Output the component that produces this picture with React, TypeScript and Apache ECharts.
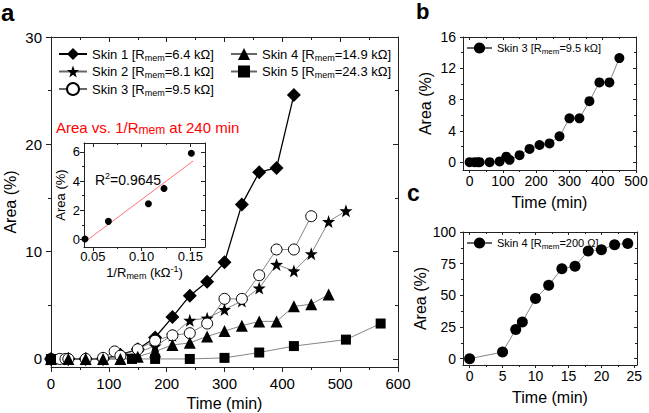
import React, { useEffect, useRef } from 'react';
import * as echarts from 'echarts';

const FONT = '"Liberation Sans", Arial, Helvetica, sans-serif';
const AX = '#222';

// ---- panel a data ----
const timeA1 = [0, 30, 60, 90, 120, 150, 180, 210, 240, 270, 300, 330, 360, 390, 420];
const skin1 = [0, 0, 0, 0, 0.4, 0.9, 2.0, 3.9, 5.9, 7.2, 9.0, 14.4, 17.4, 17.8, 24.6];
const timeA2 = [0, 30, 60, 90, 120, 150, 180, 210, 240, 270, 300, 330, 360, 390, 420, 450, 480, 510];
const skin2 = [0, 0, 0, 0, 0.3, 0.6, 1.2, 2.2, 3.6, 3.8, 4.6, 5.4, 6.6, 8.8, 8.2, 9.8, 12.8, 13.8];
const timeA3 = [0, 15, 25, 30, 60, 90, 110, 120, 150, 180, 210, 240, 270, 300, 330, 360, 390, 420, 450];
const skin3 = [0, 0, 0, 0, 0, 0.1, 0.7, 0.3, 0.9, 1.7, 2.2, 2.4, 3.3, 5.6, 5.6, 7.8, 10.2, 10.2, 13.3];
const timeA4 = [0, 30, 60, 90, 120, 150, 180, 210, 240, 270, 300, 330, 360, 390, 420, 450, 480];
const skin4 = [0, 0, 0, 0, 0, 0.2, 0.7, 1.3, 1.5, 2.1, 2.6, 3.1, 3.5, 3.5, 4.9, 5.1, 6.0];
const timeA5 = [0, 140, 180, 240, 300, 360, 420, 510, 570];
const skin5 = [0, 0, 0, 0, 0.1, 0.6, 1.2, 1.8, 3.3];

// ---- inset data ----
const invR = [0.042, 0.066, 0.107, 0.123, 0.151];
const area240 = [0.05, 1.25, 2.45, 3.5, 5.9];

// ---- panel b data ----
const timeB = [0, 15, 25, 30, 60, 90, 110, 120, 150, 180, 210, 240, 270, 300, 330, 360, 390, 420, 450];
const skin3b = [0, 0, 0, 0, 0, 0.1, 0.7, 0.3, 0.9, 1.7, 2.2, 2.4, 3.3, 5.6, 5.6, 7.8, 10.2, 10.2, 13.3];

// ---- panel c data ----
const timeC = [0, 5, 7, 8, 10, 12, 14, 16, 18, 20, 22, 24];
const skin4c = [0, 5.2, 23, 29, 47.5, 58, 71, 73, 85, 86, 90, 91];

// ---- tick values ----
const aXMajor = [0, 100, 200, 300, 400, 500, 600];
const aXMinor = [50, 150, 250, 350, 450, 550];
const aYMajor = [0, 10, 20, 30];
const aYMinor = [5, 15, 25];
const iXMajor = [0.05, 0.1, 0.15];
const iXMinor = [0.075, 0.125];
const iYMajor = [0, 2, 4, 6];
const iYMinor = [1, 3, 5];
const bXMajor = [0, 100, 200, 300, 400, 500];
const bXMinor = [50, 150, 250, 350, 450];
const bYMajor = [0, 4, 8, 12, 16];
const bYMinor = [2, 6, 10, 14];
const cXMajor = [0, 5, 10, 15, 20, 25];
const cXMinor = [2.5, 7.5, 12.5, 17.5, 22.5];
const cYMajor = [0, 25, 50, 75, 100];
const cYMinor = [12.5, 37.5, 62.5, 87.5];

const legendNames: Record<string, string> = {
  'Skin 1': 'Skin 1 [R{sub|mem}=6.4 kΩ]',
  'Skin 2': 'Skin 2 [R{sub|mem}=8.1 kΩ]',
  'Skin 3': 'Skin 3 [R{sub|mem}=9.5 kΩ]',
  'Skin 4': 'Skin 4 [R{sub|mem}=14.9 kΩ]',
  'Skin 5': 'Skin 5 [R{sub|mem}=24.3 kΩ]',
  b3: 'Skin 3 [R{sub|mem}=9.5 kΩ]',
  c4: 'Skin 4 [R{sub|mem}=200 Ω]',
};

type AxCfg = {
  min: number; max: number; major: number[]; minor: number[];
  fontSize: number; margin: number; fmt?: (v: number) => string;
  name?: string; nameGap?: number; nameStyle?: any; tick?: number; noMove?: boolean;
};

function buildAxes(dim: 'x' | 'y', grid: number, c: AxCfg, list: any[]) {
  const pPos = dim === 'x' ? 'bottom' : 'left';
  const mPos = dim === 'x' ? 'top' : 'right';
  const tl = c.tick ?? 5;
  const base = { type: 'value', gridIndex: grid, min: c.min, max: c.max, splitLine: { show: false } };
  const lineStyle = { color: AX, width: 1 };
  const label: any = { show: true, customValues: c.major, margin: c.margin, fontSize: c.fontSize, color: '#000', fontFamily: FONT };
  if (c.fmt) label.formatter = c.fmt;
  const primary: any = {
    ...base, position: pPos,
    axisLine: { show: true, onZero: false, lineStyle },
    axisTick: { show: true, inside: false, length: tl, customValues: c.major, lineStyle },
    axisLabel: label,
  };
  if (c.name) {
    primary.name = c.name;
    primary.nameLocation = 'middle';
    primary.nameGap = c.nameGap;
    primary.nameTextStyle = c.nameStyle;
    if (c.noMove) primary.nameMoveOverlap = false;
  }
  const idx = list.length;
  list.push(primary);
  list.push({ ...base, position: pPos, axisLine: { show: false, onZero: false }, axisTick: { show: true, inside: false, length: Math.round(tl * 0.6), customValues: c.minor, lineStyle }, axisLabel: { show: false } });
  list.push({ ...base, position: mPos, axisLine: { show: true, onZero: false, lineStyle }, axisTick: { show: true, inside: true, length: tl, customValues: c.major, lineStyle }, axisLabel: { show: false } });
  list.push({ ...base, position: mPos, axisLine: { show: false, onZero: false }, axisTick: { show: true, inside: true, length: Math.round(tl * 0.6), customValues: c.minor, lineStyle }, axisLabel: { show: false } });
  return idx;
}

const pairs = (xs: number[], ys: number[]) => xs.map((x, i) => [x, ys[i]]);

export default function App() {
  const ref = useRef<HTMLDivElement>(null);
  useEffect(() => {
    if (!ref.current) return;
    const chart = echarts.init(ref.current, null, { renderer: 'svg' });
    const xAxes: any[] = [];
    const yAxes: any[] = [];
    const nameStyle16 = { fontSize: 16, fontFamily: FONT, color: '#000' };

    const ax = buildAxes('x', 0, { min: 0, max: 600, major: aXMajor, minor: aXMinor, fontSize: 15, margin: 9, name: 'Time (min)', nameGap: 26, nameStyle: nameStyle16 }, xAxes);
    const ay = buildAxes('y', 0, { min: -0.75, max: 30, major: aYMajor, minor: aYMinor, fontSize: 15, margin: 9, name: 'Area (%)', nameGap: 33, nameStyle: nameStyle16, noMove: true }, yAxes);

    const subRich = { sub: { fontSize: 9, verticalAlign: 'bottom', lineHeight: 10, fontFamily: FONT, color: '#000' }, sup: { fontSize: 9, verticalAlign: 'top', lineHeight: 10, fontFamily: FONT, color: '#000' } };
    const ix = buildAxes('x', 1, { min: 0.041, max: 0.165, major: iXMajor, minor: iXMinor, fontSize: 13, margin: 3, tick: 4, fmt: (v: number) => v.toFixed(2), name: '1/R{sub|mem} (kΩ{sup|-1})', nameGap: 17, nameStyle: { fontSize: 13, fontFamily: FONT, color: '#000', lineHeight: 16, rich: subRich } }, xAxes);
    const iy = buildAxes('y', 1, { min: -0.5, max: 6.6, major: iYMajor, minor: iYMinor, fontSize: 13, margin: 4, tick: 4, name: 'Area (%)', nameGap: 17, nameStyle: { fontSize: 13, fontFamily: FONT, color: '#000' } }, yAxes);

    const bx = buildAxes('x', 2, { min: -20, max: 500, major: bXMajor, minor: bXMinor, fontSize: 14, margin: 4, tick: 3, name: 'Time (min)', nameGap: 24, nameStyle: nameStyle16 }, xAxes);
    const by = buildAxes('y', 2, { min: -1, max: 16, major: bYMajor, minor: bYMinor, fontSize: 14, margin: 7, tick: 3, name: 'Area (%)', nameGap: 30, nameStyle: nameStyle16 }, yAxes);

    const cx = buildAxes('x', 3, { min: -1, max: 25.4, major: cXMajor, minor: cXMinor, fontSize: 14, margin: 4, tick: 3, name: 'Time (min)', nameGap: 24, nameStyle: nameStyle16 }, xAxes);
    const cy = buildAxes('y', 3, { min: -5, max: 100, major: cYMajor, minor: cYMinor, fontSize: 14, margin: 7, tick: 3, name: 'Area (%)', nameGap: 30, nameStyle: nameStyle16 }, yAxes);

    // linear fit for inset
    const n = invR.length;
    const mx = invR.reduce((a, b) => a + b, 0) / n;
    const my = area240.reduce((a, b) => a + b, 0) / n;
    let sxy = 0, sxx = 0;
    for (let i = 0; i < n; i++) { sxy += (invR[i] - mx) * (area240[i] - my); sxx += (invR[i] - mx) ** 2; }
    const slope = sxy / sxx;
    const icpt = my - slope * mx;
    const fitX = [0.044, 0.153];

    const gray = '#666';
    const lineSeries = (name: string, data: number[][], symbol: string, size: any, xi: number, yi: number, opts: any = {}) => ({
      type: 'line', name, data, symbol, symbolSize: size, xAxisIndex: xi, yAxisIndex: yi, clip: false,
      lineStyle: { color: opts.lineColor ?? gray, width: opts.lineWidth ?? 0.8 },
      itemStyle: { color: opts.fill ?? '#000', borderColor: '#000', borderWidth: opts.border ?? 0 },
      z: opts.z ?? 2,
    });

    const legendText = (fs: number, sub: number) => ({
      fontSize: fs, fontFamily: FONT, color: '#000', lineHeight: fs + 3,
      rich: { sub: { fontSize: sub, verticalAlign: 'bottom', lineHeight: sub + 1, fontFamily: FONT, color: '#000' } },
    });
    const fmt = (name: string) => legendNames[name] ?? name;
    const gb = { outerBoundsMode: 'none', containLabel: false };

    const option: any = {
      animation: false,
      backgroundColor: '#fff',
      grid: [
        { ...gb, left: 51, top: 37, width: 347, height: 330 },
        { ...gb, left: 84, top: 143, width: 121, height: 104, show: true, backgroundColor: '#fff', borderWidth: 0 },
        { ...gb, left: 463, top: 37, width: 173, height: 133 },
        { ...gb, left: 463, top: 232, width: 174, height: 133 },
      ],
      xAxis: xAxes,
      yAxis: yAxes,
      legend: [
        { data: ['Skin 1', 'Skin 2', 'Skin 3'], orient: 'vertical', left: 58, top: 46, padding: 0, itemWidth: 28, itemHeight: 15, itemGap: 1.5, selectedMode: false, formatter: fmt, textStyle: legendText(13, 9) },
        { data: ['Skin 4', 'Skin 5'], orient: 'vertical', left: 230, top: 46, padding: 0, itemWidth: 26, itemHeight: 15, itemGap: 1.5, selectedMode: false, formatter: fmt, textStyle: legendText(13, 9) },
        { data: ['b3'], left: 466, top: 41, padding: 0, itemWidth: 25, itemHeight: 14, selectedMode: false, formatter: fmt, textStyle: legendText(11, 8) },
        { data: ['c4'], left: 466, top: 236, padding: 0, itemWidth: 25, itemHeight: 14, selectedMode: false, formatter: fmt, textStyle: legendText(11, 8) },
      ],
      series: [
        lineSeries('Skin 1', pairs(timeA1, skin1), 'diamond', 14, ax, ay, { lineColor: '#000', lineWidth: 1.3 }),
        lineSeries('Skin 2', pairs(timeA2, skin2), 'path://M0,-10 L2.35,-3.24 9.51,-3.09 3.8,1.24 5.88,8.09 0,4 -5.88,8.09 -3.8,1.24 -9.51,-3.09 -2.35,-3.24 Z', 13, ax, ay),
        lineSeries('Skin 3', pairs(timeA3, skin3), 'circle', 11, ax, ay, { fill: '#fff', border: 1 }),
        lineSeries('Skin 4', pairs(timeA4, skin4), 'triangle', 12, ax, ay),
        lineSeries('Skin 5', pairs(timeA5, skin5), 'rect', 10, ax, ay),
        { type: 'scatter', data: pairs(invR, area240), symbol: 'circle', symbolSize: 7, xAxisIndex: ix, yAxisIndex: iy, itemStyle: { color: '#000', opacity: 1 }, z: 5 },
        { type: 'line', data: fitX.map((x) => [x, icpt + slope * x]), symbol: 'none', xAxisIndex: ix, yAxisIndex: iy, lineStyle: { color: '#ff5050', width: 0.8 }, z: 4 },
        lineSeries('b3', pairs(timeB, skin3b), 'circle', 10, bx, by),
        lineSeries('c4', pairs(timeC, skin4c), 'circle', 11, cx, cy),
      ],
      graphic: [
        { type: 'text', left: 1, top: 0, style: { text: 'a', font: `bold 24px ${FONT}`, fill: '#000' } },
        { type: 'text', left: 416, top: 0, style: { text: 'b', font: `bold 22px ${FONT}`, fill: '#000' } },
        { type: 'text', left: 407, top: 181, style: { text: 'c', font: `bold 23px ${FONT}`, fill: '#000' } },
        {
          type: 'text', left: 56, top: 118, z: 10,
          style: {
            text: 'Area vs. 1/R{sub|mem} at 240 min', font: `15px ${FONT}`, fill: '#ff0000', lineHeight: 18,
            rich: { sub: { fontSize: 12, fontFamily: FONT, fill: '#ff0000', verticalAlign: 'bottom', lineHeight: 12 } },
          },
        },
        {
          type: 'text', left: 95, top: 171, z: 10,
          style: {
            text: 'R{sup|2}=0.9645', font: `14px ${FONT}`, fill: '#000', lineHeight: 17,
            rich: { sup: { fontSize: 9, fontFamily: FONT, fill: '#000', verticalAlign: 'top', lineHeight: 10 } },
          },
        },
      ],
    };
    chart.setOption(option);
    return () => chart.dispose();
  }, []);
  return <div ref={ref} style={{ position: 'fixed', left: 0, top: 0, width: 649, height: 413 }} />;
}
